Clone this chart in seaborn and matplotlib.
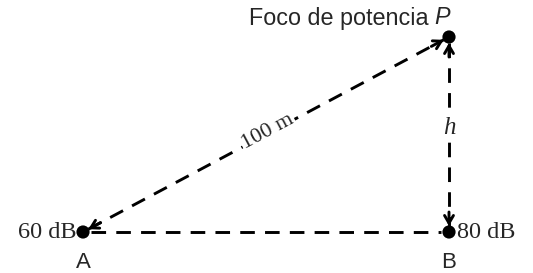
import matplotlib.pyplot as plt
import seaborn as sns
import numpy as np
import pandas as pd

sns.set_style('white')

# diagram points (pixel-like layout units, y grows downward)
names = ['A', 'B', 'P']
xs = [83, 449, 449]
ys = [232, 232, 37]
levels = ['60 dB', '80 dB', '']
dist_label = '100 m'
height_label = 'h'
source_label = 'Foco de potencia'

pts = pd.DataFrame({'name': names, 'x': xs, 'y': ys})
A, B, P = [np.array([x, y], dtype=float) for x, y in zip(xs, ys)]

fig = plt.figure(figsize=(5.33, 2.73), dpi=100)
ax = fig.add_axes([0, 0, 1, 1])
ax.set_xlim(0, 533)
ax.set_ylim(273, 0)
ax.axis('off')

dash = dict(color='black', lw=2.1, ls=(0, (5, 3.5)), solid_capstyle='butt')

def dashed_arrow(p0, p1, head0, head1):
    d = (p1 - p0) / np.linalg.norm(p1 - p0)
    a = p0 + d * (6 if head0 else 0)
    b = p1 - d * (6 if head1 else 0)
    ax.plot([a[0], b[0]], [a[1], b[1]], **dash)
    hp = dict(arrowstyle='->,head_length=0.55,head_width=0.32', color='black', lw=2.1,
              shrinkA=0, shrinkB=0)
    if head0:
        ax.annotate('', xy=tuple(p0 + d * 6), xytext=tuple(p0 + d * 20), arrowprops=hp)
    if head1:
        ax.annotate('', xy=tuple(p1 - d * 6), xytext=tuple(p1 - d * 20), arrowprops=hp)

dashed_arrow(A, P, True, True)
dashed_arrow(P, B, True, True)
ax.plot([A[0] + 8, B[0] - 8], [A[1], B[1]], **dash)

sns.scatterplot(data=pts, x='x', y='y', color='black', s=90, ax=ax, zorder=5,
                edgecolor='none', legend=False)
ax.axis('off')

serif = 'Liberation Serif'
sans = 'Liberation Sans'
ax.text(A[0] - 7, A[1] + 1, levels[0], ha='right', va='center', fontsize=17.5, family=serif)
ax.text(B[0] + 8, B[1] + 1, levels[1], ha='left', va='center', fontsize=17.5, family=serif)
ax.text(A[0], A[1] + 30, names[0], ha='center', va='center', fontsize=16, family=sans)
ax.text(B[0], B[1] + 30, names[1], ha='center', va='center', fontsize=16, family=sans)
ax.text(P[0] - 20, 18, source_label, ha='right', va='center', fontsize=16.8, family=sans)
ax.text(P[0] - 15, 18, names[2], ha='left', va='center', fontsize=16.8, family=sans,
        style='italic')
ax.text(P[0], 128, height_label, ha='center', va='center', fontsize=18, family=serif,
        style='italic', bbox=dict(facecolor='white', edgecolor='none', pad=0))

ang = np.degrees(np.arctan2(A[1] - P[1], P[0] - A[0]))
ax.text(268, 132, dist_label, ha='center', va='center', fontsize=16, family=serif,
        rotation=ang, rotation_mode='anchor',
        bbox=dict(facecolor='white', edgecolor='none', pad=1))

fig.savefig('out.png', dpi=100)
